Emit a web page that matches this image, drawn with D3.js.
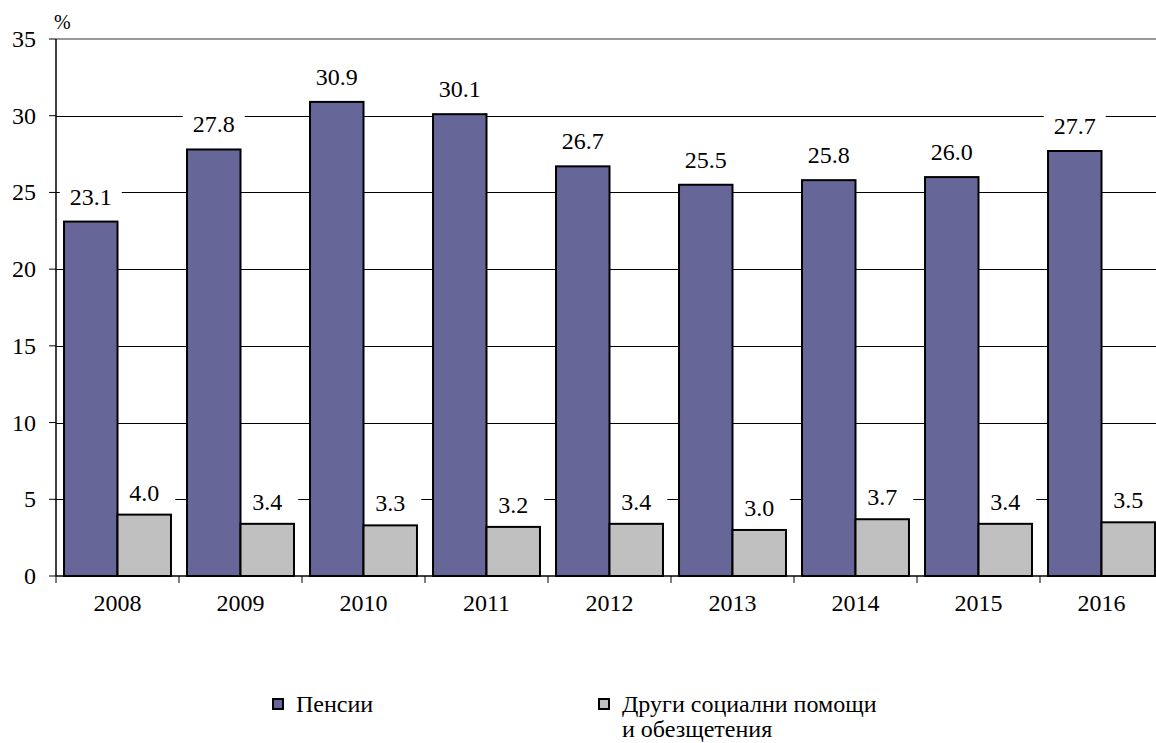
<!DOCTYPE html>
<html>
<head>
<meta charset="utf-8">
<script src="https://cdn.jsdelivr.net/npm/d3@7"></script>
</head>
<body style="margin:0">
<script>
// data
var years = ["2008", "2009", "2010", "2011", "2012", "2013", "2014", "2015", "2016"];
var pensions = [23.1, 27.8, 30.9, 30.1, 26.7, 25.5, 25.8, 26.0, 27.7];
var otherBenefits = [4.0, 3.4, 3.3, 3.2, 3.4, 3.0, 3.7, 3.4, 3.5];
var yTicks = [0, 5, 10, 15, 20, 25, 30, 35];
var seriesNames = ["Пенсии", "Други социални помощи|и обезщетения"];
var seriesColors = ["#666699", "#c0c0c0"];

var width = 1156, height = 743;
var margin = { left: 56, top: 39, bottom: 167 };
var plotRight = 1163;
var FONT = "Liberation Serif";

var svg = d3.select("body").append("svg")
    .attr("width", width)
    .attr("height", height);

// Scales
var x = d3.scaleBand().domain(years).range([margin.left, plotRight]);
var x1 = d3.scaleBand().domain([0, 1]).range([0, x.bandwidth()]).paddingOuter(0.15).paddingInner(0);
var y = d3.scaleLinear().domain([0, 35]).range([height - margin.bottom, margin.top]);

// gridlines
svg.append("g").selectAll("line")
    .data(yTicks.filter(function(d) { return d > 0 && d < 35; }))
    .enter().append("line")
    .attr("x1", margin.left).attr("x2", width)
    .attr("y1", function(d) { return Math.round(y(d)) + 0.5; })
    .attr("y2", function(d) { return Math.round(y(d)) + 0.5; })
    .attr("stroke", "#000")
    .attr("stroke-width", 1);

// top border of plot area
svg.append("line")
    .attr("x1", margin.left).attr("x2", width)
    .attr("y1", y(35)).attr("y2", y(35))
    .attr("stroke", "#999")
    .attr("stroke-width", 2);

var data = years.map(function(yr, i) { return { year: yr, vals: [pensions[i], otherBenefits[i]] }; });

var labelY = function(d, i) { return y(d) - (i == 0 ? 17 : 14); };

var groups = svg.append("g").selectAll("g")
    .data(data)
    .enter().append("g")
    .attr("transform", function(d) { return "translate(" + x(d.year) + ",0)"; });

// white boxes behind labels (cut the gridlines)
groups.selectAll("rect.lblbox")
    .data(function(d) { return d.vals; })
    .enter().append("rect")
    .attr("class", "lblbox")
    .attr("x", function(d, i) { return x1(i) + x1.bandwidth() / 2 - 31; })
    .attr("width", 62)
    .attr("y", function(d, i) { return labelY(d, i) - 20; })
    .attr("height", 26)
    .attr("fill", "#fff");

groups.selectAll("rect.bar")
    .data(function(d) { return d.vals; })
    .enter().append("rect")
    .attr("class", "bar")
    .attr("x", function(d, i) { return x1(i); })
    .attr("width", x1.bandwidth())
    .attr("y", function(d) { return y(d); })
    .attr("height", function(d) { return y(0) - y(d); })
    .attr("fill", function(d, i) { return seriesColors[i]; })
    .attr("stroke", "#000")
    .attr("stroke-width", 2);

groups.selectAll("text")
    .data(function(d) { return d.vals; })
    .enter().append("text")
    .attr("x", function(d, i) { return x1(i) + x1.bandwidth() / 2; })
    .attr("y", labelY)
    .attr("text-anchor", "middle")
    .attr("font-family", FONT)
    .attr("font-size", 24)
    .text(function(d) { return d.toFixed(1); });

// Y axis
var yAxis = svg.append("g");
yAxis.append("line")
    .attr("x1", margin.left).attr("x2", margin.left)
    .attr("y1", y(35)).attr("y2", y(0))
    .attr("stroke", "#000").attr("stroke-width", 1.5);
yAxis.selectAll("line.tick")
    .data(yTicks)
    .enter().append("line")
    .attr("class", "tick")
    .attr("x1", margin.left - 7).attr("x2", margin.left)
    .attr("y1", function(d) { return y(d); })
    .attr("y2", function(d) { return y(d); })
    .attr("stroke", "#000");
yAxis.selectAll("text")
    .data(yTicks)
    .enter().append("text")
    .attr("x", 36)
    .attr("y", function(d) { return y(d) + 8; })
    .attr("text-anchor", "end")
    .attr("font-family", FONT)
    .attr("font-size", 24)
    .text(function(d) { return d; });

svg.append("text")
    .attr("x", 54).attr("y", 29)
    .attr("font-family", FONT)
    .attr("font-size", 20)
    .text("%");

// X axis
var xAxis = svg.append("g");
xAxis.append("line")
    .attr("x1", margin.left).attr("x2", width)
    .attr("y1", y(0)).attr("y2", y(0))
    .attr("stroke", "#000").attr("stroke-width", 1.5);
xAxis.selectAll("line.tick")
    .data(years.concat(["end"]))
    .enter().append("line")
    .attr("class", "tick")
    .attr("x1", function(d, i) { return margin.left + i * x.bandwidth(); })
    .attr("x2", function(d, i) { return margin.left + i * x.bandwidth(); })
    .attr("y1", y(0)).attr("y2", y(0) + 7)
    .attr("stroke", "#000");
xAxis.selectAll("text")
    .data(years)
    .enter().append("text")
    .attr("x", function(d) { return x(d) + x.bandwidth() / 2; })
    .attr("y", 611)
    .attr("text-anchor", "middle")
    .attr("font-family", FONT)
    .attr("font-size", 24)
    .text(function(d) { return d; });

// Legend
var legendX = [272, 598];
var legend = svg.append("g").selectAll("g")
    .data(seriesNames)
    .enter().append("g")
    .attr("transform", function(d, i) { return "translate(" + legendX[i] + ",698)"; });

legend.append("rect")
    .attr("x", 1).attr("y", 1)
    .attr("width", 10).attr("height", 10)
    .attr("fill", function(d, i) { return seriesColors[i]; })
    .attr("stroke", "#000").attr("stroke-width", 2);

legend.append("text")
    .attr("x", 24).attr("y", 14)
    .attr("font-family", FONT)
    .attr("font-size", 24)
    .selectAll("tspan")
    .data(function(d) { return d.split("|"); })
    .enter().append("tspan")
    .attr("x", 24)
    .attr("dy", function(d, i) { return i == 0 ? 0 : 25; })
    .text(function(d) { return d; });
</script>
</body>
</html>
